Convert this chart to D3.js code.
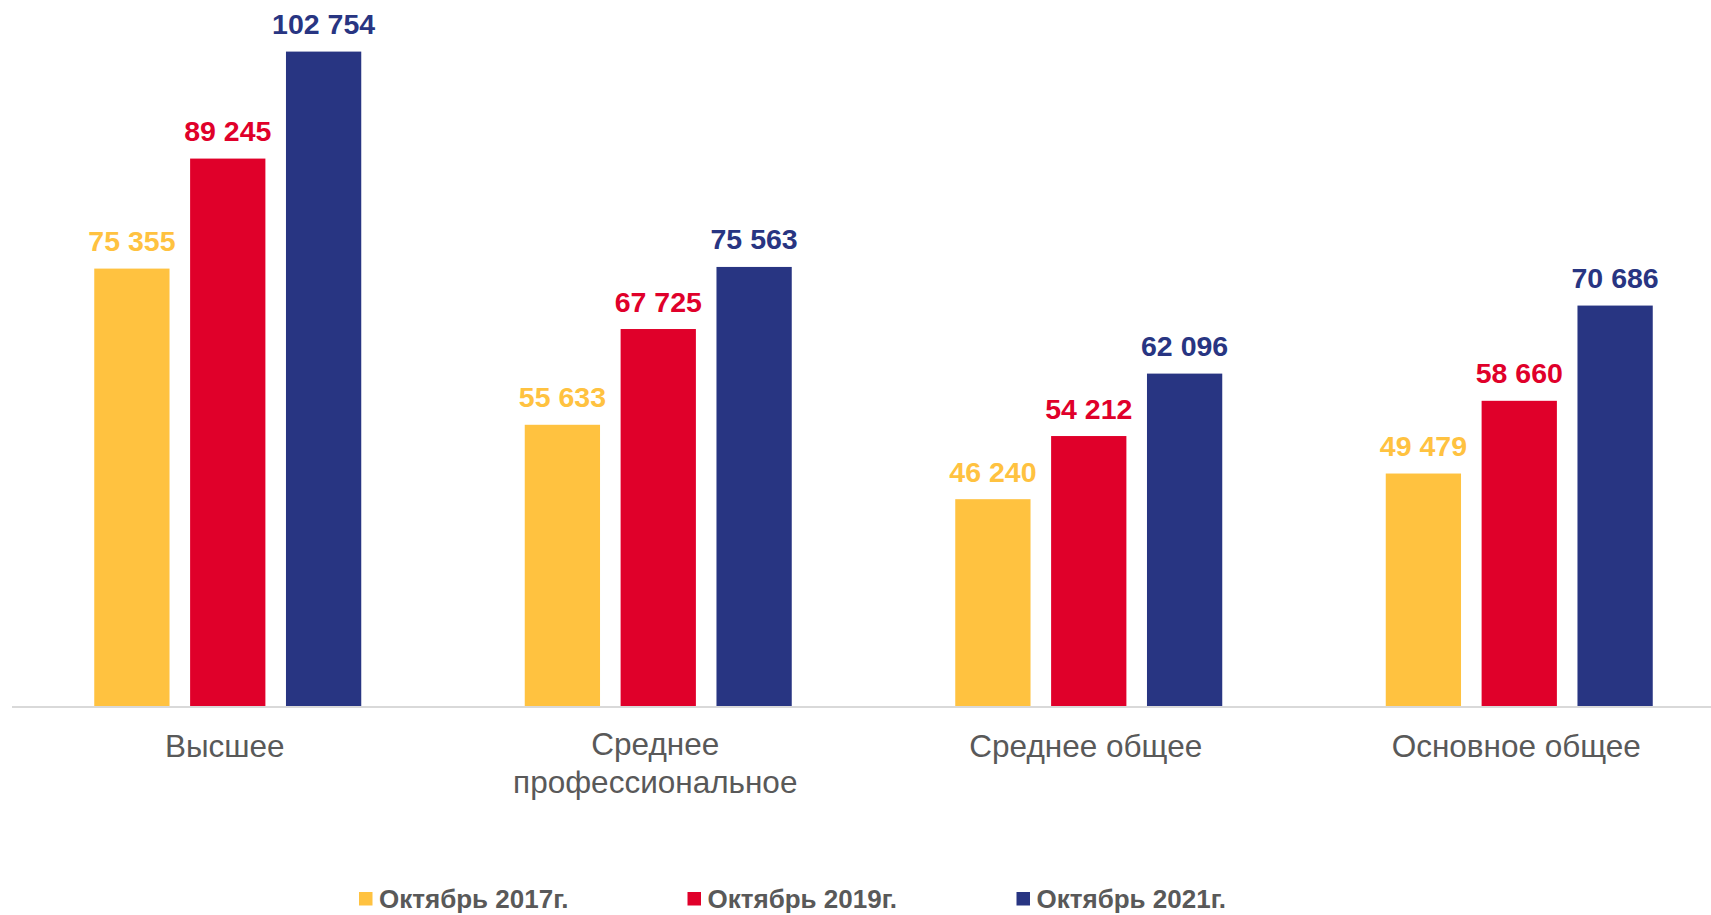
<!DOCTYPE html>
<html>
<head>
<meta charset="utf-8">
<script src="https://cdn.jsdelivr.net/npm/d3@7"></script>
<style>
  html, body { margin: 0; padding: 0; background: #fff; overflow: hidden; }
  svg { display: block; font-family: "Liberation Sans", Arial, sans-serif; }
</style>
</head>
<body>
<svg id="chart" width="1711" height="915"></svg>
<script>
const categories = ["Высшее", "Среднее профессиональное", "Среднее общее", "Основное общее"];
const categoryLines = [["Высшее"], ["Среднее", "профессиональное"], ["Среднее общее"], ["Основное общее"]];
const series = ["Октябрь 2017г.", "Октябрь 2019г.", "Октябрь 2021г."];
const values2017 = [75355, 55633, 46240, 49479];
const values2019 = [89245, 67725, 54212, 58660];
const values2021 = [102754, 75563, 62096, 70686];
const colors = ["#FFC240", "#E0002A", "#283582"];

const seriesValues = [values2017, values2019, values2021];
const svg = d3.select("#chart");

const baseY = 707;
const y = d3.scaleLinear().domain([20000, 110000]).range([baseY, baseY - 90000 * 0.00792]);
const x0 = d3.scaleBand().domain(categories).range([12.5, 1734.5]).paddingInner(0).paddingOuter(0);
const x1 = d3.scaleBand().domain(series).range([-133.5, 133.5]).paddingInner(0.2147).paddingOuter(0);
const fmt = v => d3.format(",")(v).replace(/,/g, " ");

const groups = svg.selectAll("g.grp")
  .data(categories)
  .join("g")
  .attr("class", "grp")
  .attr("transform", d => `translate(${x0(d) + x0.bandwidth() / 2},0)`);

series.forEach((s, si) => {
  groups.append("rect")
    .attr("x", x1(s))
    .attr("width", x1.bandwidth())
    .attr("y", (d, i) => y(seriesValues[si][i]))
    .attr("height", (d, i) => baseY - y(seriesValues[si][i]))
    .attr("fill", colors[si]);
  groups.append("text")
    .attr("x", x1(s) + x1.bandwidth() / 2)
    .attr("y", (d, i) => y(seriesValues[si][i]) - 17.5)
    .attr("text-anchor", "middle")
    .attr("font-size", 28.5)
    .attr("font-weight", "bold")
    .attr("fill", colors[si])
    .text((d, i) => fmt(seriesValues[si][i]));
});

// baseline axis
const axis = svg.append("g").attr("transform", `translate(0,${baseY})`)
  .call(d3.axisBottom(x0).tickSize(0).tickFormat(""));
axis.select(".domain").attr("stroke", "#D9D9D9").attr("stroke-width", 2)
  .attr("d", "M12,0H1711");

// category labels
groups.each(function (d, i) {
  const lines = categoryLines[i];
  const t = d3.select(this).append("text")
    .attr("text-anchor", "middle")
    .attr("font-size", 31.5)
    .attr("fill", "#595959");
  lines.forEach((ln, li) => {
    t.append("tspan")
      .attr("x", -3)
      .attr("y", (lines.length > 1 ? 755 : 757) + li * 37.5)
      .text(ln);
  });
});

// legend
const legendX = [359, 687.5, 1016.5];
const leg = svg.selectAll("g.leg")
  .data(series)
  .join("g")
  .attr("class", "leg")
  .attr("transform", (d, i) => `translate(${legendX[i]},892)`);
leg.append("rect").attr("width", 13.5).attr("height", 13.5).attr("fill", (d, i) => colors[i]);
leg.append("text")
  .attr("x", 20)
  .attr("y", 16)
  .attr("font-size", 26)
  .attr("font-weight", "bold")
  .attr("fill", "#595959")
  .text(d => d);
</script>
</body>
</html>
